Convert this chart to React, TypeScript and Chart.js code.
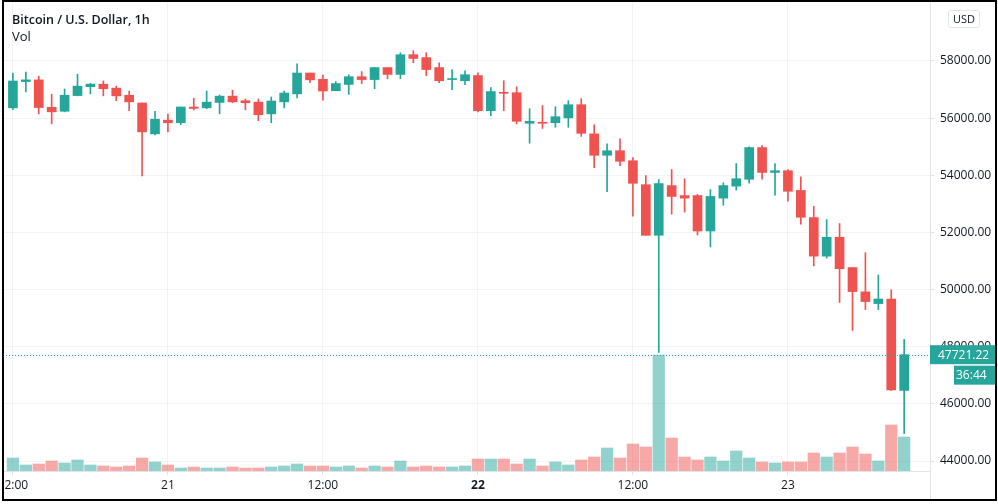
import React, { useEffect, useRef } from 'react';
import { Chart, registerables } from 'chart.js';

Chart.register(...registerables);

// 1h candles, 20th 12:00 -> 23rd 09:00
const opens = [
  56360, 57280, 57340, 56380, 56240, 56790, 57100, 57190, 57050, 56800,
  56530, 55450, 55930, 55840, 56390, 56360, 56550, 56770, 56610, 56560,
  56150, 56570, 56850, 57580, 57360, 56960, 57180, 57450, 57350, 57770,
  57530, 58220, 58120, 57770, 57350, 57310, 57490, 56260, 56890, 56890,
  55820, 55850, 55840, 56010, 56470, 55450, 54700, 54860, 54510, 53670,
  51900, 53640, 53290, 53290, 52050, 53200, 53620, 53860, 54970, 54100,
  54160, 53470, 52520, 51170, 51830, 50770, 49920, 49510, 49670, 46470,
];
const highs = [
  57580, 57610, 57470, 56840, 57020, 57540, 57220, 57300, 57120, 56950,
  56530, 56240, 56140, 56390, 56700, 56950, 56810, 56980, 56670, 56670,
  56740, 56950, 57900, 57580, 57510, 57280, 57520, 57630, 57770, 57770,
  58290, 58360, 58290, 57940, 57700, 57660, 57590, 57070, 57310, 57100,
  56330, 56440, 56400, 56610, 56680, 55770, 55100, 55280, 54620, 53990,
  53850, 54200, 53880, 53330, 53500, 53740, 54410, 55000, 55040, 54410,
  54200, 53950, 52910, 52450, 52310, 50770, 51290, 50510, 49990, 48260,
];
const lows = [
  56300, 56920, 56150, 55800, 56220, 56780, 56850, 56780, 56610, 56260,
  53980, 55410, 55520, 55770, 56290, 56330, 56150, 56540, 56290, 55910,
  55840, 56360, 56710, 57240, 56630, 56960, 56830, 57210, 57030, 57380,
  57380, 57940, 57490, 57240, 57000, 57170, 56220, 56090, 56260, 55800,
  55120, 55640, 55680, 55680, 55360, 54270, 53430, 54340, 52570, 51900,
  47800, 52640, 52710, 51910, 51490, 52950, 53480, 53720, 53860, 53300,
  53090, 52290, 50830, 51100, 49550, 48570, 49300, 49300, 46470, 44960,
];
const closes = [
  57300, 57340, 56370, 56220, 56800, 57120, 57190, 57030, 56780, 56570,
  55520, 55960, 55840, 56390, 56340, 56560, 56770, 56570, 56540, 56120,
  56600, 56880, 57580, 57340, 56950, 57210, 57450, 57350, 57770, 57530,
  58220, 58090, 57700, 57310, 57380, 57520, 56260, 56930, 56870, 55890,
  55890, 55820, 56050, 56470, 55470, 54700, 54860, 54490, 53720, 51900,
  53710, 53260, 53200, 52050, 53260, 53640, 53880, 54970, 54100, 54160,
  53440, 52530, 51170, 51830, 50730, 49930, 49580, 49670, 46490, 47721.22,
];
const volumes = [
  1300, 600, 700, 1000, 800, 1100, 600, 500, 400, 500,
  1300, 900, 600, 300, 400, 300, 300, 400, 300, 300,
  400, 500, 700, 500, 500, 400, 500, 300, 500, 400,
  1000, 400, 500, 400, 400, 500, 1200, 1200, 1200, 700,
  1200, 500, 900, 600, 1100, 1400, 2300, 1300, 2700, 2400,
  11600, 3300, 1400, 1100, 1400, 1000, 2000, 1300, 900, 800,
  900, 900, 1800, 1400, 1800, 2400, 1700, 1000, 4600, 3400,
];
const xTickHours = [0, 12, 24, 36, 48, 60];
const xTickLabels = ['12:00', '21', '12:00', '22', '12:00', '23'];
const priceTicks = [44000, 46000, 48000, 50000, 52000, 54000, 56000, 58000];
const countdown = '36:44';

const GREEN = '#26a69a';
const RED = '#ef5350';
const GREEN_VOL = 'rgba(38,166,154,0.5)';
const RED_VOL = 'rgba(239,83,80,0.5)';
const GRID = 'rgba(42,46,57,0.06)';
const AXIS_LINE = '#e0e3eb';
const TEXT = '#131722';
const FONT = '"Open Sans", "Noto Sans", sans-serif';

export default function App() {
  const ref = useRef<HTMLCanvasElement | null>(null);

  useEffect(() => {
    const canvas = ref.current;
    if (!canvas) return;
    const idx = opens.map((_, i) => i);
    const up = idx.map((i) => closes[i] >= opens[i]);
    const lastPrice = closes[closes.length - 1];

    const overlay = {
      id: 'overlay',
      afterDatasetsDraw(chart: any) {
        const { ctx, chartArea } = chart;
        const y = chart.scales.y.getPixelForValue(lastPrice);
        ctx.save();
        ctx.strokeStyle = GREEN;
        ctx.lineWidth = 1;
        ctx.setLineDash([1, 2]);
        ctx.beginPath();
        ctx.moveTo(chartArea.left, Math.round(y) + 0.5);
        ctx.lineTo(chartArea.right, Math.round(y) + 0.5);
        ctx.stroke();
        ctx.restore();
      },
      afterDraw(chart: any) {
        const { ctx, chartArea } = chart;
        const y = chart.scales.y.getPixelForValue(lastPrice);
        ctx.save();
        // separator continues through time axis
        ctx.strokeStyle = AXIS_LINE;
        ctx.lineWidth = 1;
        ctx.beginPath();
        ctx.moveTo(chartArea.right + 0.5, chartArea.bottom);
        ctx.lineTo(chartArea.right + 0.5, chart.height);
        ctx.stroke();
        // last price label
        ctx.fillStyle = GREEN;
        ctx.fillRect(chartArea.right, y - 9.5, chart.width - chartArea.right, 19);
        ctx.fillRect(chartArea.right + 24, y + 11, chart.width - chartArea.right - 24, 19);
        ctx.fillStyle = '#ffffff';
        ctx.font = '12px ' + FONT;
        ctx.textBaseline = 'middle';
        ctx.textAlign = 'left';
        ctx.fillText(lastPrice.toFixed(2), chartArea.right + 8, y + 0.5);
        ctx.fillText(countdown, chartArea.right + 26, y + 21);
        ctx.restore();
      },
    };

    const chart = new Chart(canvas, {
      type: 'bar',
      data: {
        datasets: [
          {
            label: 'body',
            data: idx.map((i) => ({ x: i, y: [opens[i], closes[i]] })) as any,
            backgroundColor: up.map((u) => (u ? GREEN : RED)),
            barThickness: 9,
            minBarLength: 1,
            grouped: false,
            yAxisID: 'y',
            order: 0,
          },
          {
            label: 'wick',
            data: idx.map((i) => ({ x: i, y: [lows[i], highs[i]] })) as any,
            backgroundColor: up.map((u) => (u ? GREEN : RED)),
            barThickness: 1,
            grouped: false,
            yAxisID: 'y',
            order: 1,
          },
          {
            label: 'Vol',
            data: idx.map((i) => ({ x: i, y: volumes[i] })) as any,
            backgroundColor: up.map((u) => (u ? GREEN_VOL : RED_VOL)),
            barThickness: 11.6,
            grouped: false,
            yAxisID: 'yv',
            order: 2,
          },
        ] as any,
      },
      options: {
        animation: false,
        responsive: false,
        layout: { padding: 0 },
        plugins: {
          legend: { display: false },
          tooltip: { enabled: false },
        },
        scales: {
          x: {
            type: 'linear',
            min: -1,
            max: 71,
            offset: false,
            grid: { color: GRID, tickLength: 4, offset: false, tickColor: AXIS_LINE } as any,
            border: { color: AXIS_LINE },
            ticks: {
              autoSkip: false,
              maxRotation: 0,
              padding: 3,
              color: TEXT,
              font: (c: any) => ({
                family: FONT,
                size: 12,
                weight: c.tick && c.tick.value === 36 ? 'bold' : 'normal',
              }),
              callback: (_v: any, i: number) => xTickLabels[i],
            } as any,
            afterBuildTicks: (s: any) => {
              s.ticks = xTickHours.map((v) => ({ value: v }));
            },
            afterFit: (s: any) => {
              s.height = 33;
              s.paddingLeft = 0;
              s.paddingRight = 0;
            },
          } as any,
          y: {
            type: 'linear',
            position: 'right',
            min: 43650,
            max: 60135,
            grid: { color: GRID, tickLength: 4, tickColor: AXIS_LINE } as any,
            border: { color: AXIS_LINE },
            ticks: {
              padding: 6,
              color: TEXT,
              font: { family: FONT, size: 12 },
              callback: (v: any) => Number(v).toFixed(2),
            },
            afterBuildTicks: (s: any) => {
              s.ticks = priceTicks.map((v) => ({ value: v }));
            },
            afterFit: (s: any) => {
              s.width = 68;
              s.paddingTop = 0;
              s.paddingBottom = 0;
            },
          } as any,
          yv: {
            type: 'linear',
            display: false,
            min: 0,
            max: 47100,
          },
        },
      },
      plugins: [overlay],
    });

    return () => chart.destroy();
  }, []);

  return (
    <div
      style={{
        position: 'fixed',
        left: 0,
        top: 0,
        width: 998,
        height: 504,
        background: '#ffffff',
        overflow: 'hidden',
        fontFamily: FONT,
        color: TEXT,
      }}
    >
      <canvas ref={ref} width={998} height={504} style={{ position: 'absolute', left: 0, top: 0, width: 998, height: 504 }} />
      <div style={{ position: 'absolute', left: 12, top: 10.5, fontSize: 12.5, fontWeight: 600, lineHeight: '18px', whiteSpace: 'nowrap' }}>
        Bitcoin / U.S. Dollar, 1h
      </div>
      <div style={{ position: 'absolute', left: 12, top: 26.5, fontSize: 13, lineHeight: '18px' }}>Vol</div>
      <div
        style={{
          position: 'absolute',
          left: 948,
          top: 10,
          width: 32,
          height: 18,
          boxSizing: 'border-box',
          border: '1px solid #e0e3eb',
          borderRadius: 3,
          fontSize: 11,
          lineHeight: '16px',
          textAlign: 'center',
        }}
      >
        USD
      </div>
      {/* white margins outside the frame */}
      <div style={{ position: 'absolute', left: 0, top: 0, width: 2, height: 504, background: '#ffffff' }} />
      <div style={{ position: 'absolute', left: 997, top: 0, width: 1, height: 504, background: '#ffffff' }} />
      <div style={{ position: 'absolute', left: 0, top: 501, width: 998, height: 3, background: '#ffffff' }} />
      <div
        style={{
          position: 'absolute',
          left: 2,
          top: 0,
          width: 995,
          height: 501,
          boxSizing: 'border-box',
          border: '2px solid #000',
          pointerEvents: 'none',
        }}
      />
    </div>
  );
}
